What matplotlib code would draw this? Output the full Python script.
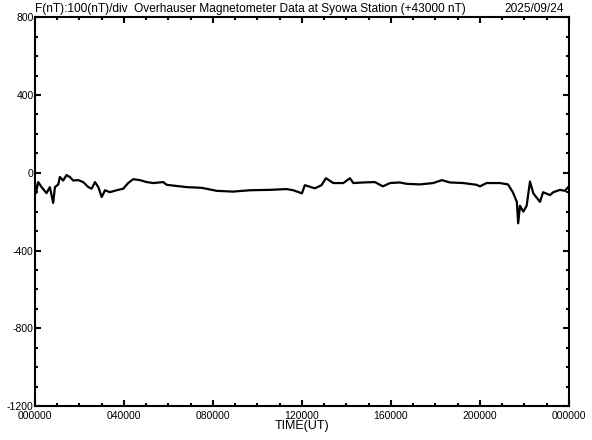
import matplotlib
matplotlib.use("Agg")
import matplotlib.pyplot as plt
from matplotlib.ticker import MultipleLocator

# (hours UT, F - 43000 nT)
hours = [0.0, 0.045, 0.15, 0.30, 0.52, 0.67, 0.82, 0.90, 1.05, 1.12, 1.27, 1.42,
         1.57, 1.72, 1.95, 2.17, 2.40, 2.55, 2.70, 2.85, 3.00, 3.15, 3.37, 3.67,
         3.97, 4.19, 4.42, 4.72, 5.02, 5.32, 5.77, 5.92, 6.37, 6.82, 7.42, 7.56,
         8.17, 8.90, 9.66, 10.56, 11.31, 11.61, 12.0, 12.13, 12.58, 12.88, 13.08,
         13.41, 13.86, 14.16, 14.31, 14.75, 15.28, 15.64, 15.96, 16.40, 16.71,
         17.30, 17.90, 18.29, 18.65, 19.25, 19.85, 20.0, 20.30, 20.90, 21.26,
         21.48, 21.66, 21.72, 21.80, 21.95, 22.10, 22.25, 22.40, 22.70, 22.84,
         23.15, 23.30, 23.60, 23.82, 24.0]
field = [-47, -105, -48, -74, -105, -74, -155, -74, -60, -22, -40, -12,
         -22, -40, -38, -48, -74, -82, -48, -74, -125, -90, -100, -90,
         -82, -53, -33, -38, -48, -53, -48, -62, -68, -74, -77, -79,
         -93, -97, -90, -88, -84, -90, -106, -64, -80, -64, -28,
         -53, -53, -28, -53, -50, -48, -70, -53, -50, -57,
         -60, -53, -38, -50, -53, -62, -70, -53, -53, -60,
         -100, -150, -260, -170, -200, -170, -45, -106, -150, -100,
         -115, -100, -88, -93, -70]

xtick_pos = [0, 4, 8, 12, 16, 20, 24]
xtick_labels = ['000000', '040000', '080000', '120000', '160000', '200000', '000000']
ytick_pos = [800, 400, 0, -400, -800, -1200]
ytick_labels = ['800', '400', '0', '-400', '-800', '-1200']

plt.rcParams['font.family'] = ['Liberation Sans', 'DejaVu Sans']

fig = plt.figure(figsize=(5.92, 4.4), dpi=100)
ax = fig.add_axes([0.059, 0.077, 0.902, 0.884])

ax.plot(hours, field, color='black', lw=1.6)

ax.set_xlim(0, 24)
ax.set_ylim(-1200, 800)
ax.set_xticks(xtick_pos)
ax.set_xticklabels(xtick_labels)
ax.set_yticks(ytick_pos)
ax.set_yticklabels(ytick_labels)
ax.xaxis.set_minor_locator(MultipleLocator(1))
ax.yaxis.set_minor_locator(MultipleLocator(100))
ax.tick_params(which='both', direction='in', top=True, right=True,
               width=1.5, colors='black', labelsize=7.5)
ax.tick_params(axis='y', pad=1)
ax.tick_params(axis='x', pad=3.5)
ax.tick_params(which='major', length=4)
ax.tick_params(which='minor', length=2.5)
for s in ax.spines.values():
    s.set_linewidth(1.5)

ax.set_xlabel('TIME(UT)', fontsize=9, labelpad=-1)
ax.text(0.0, 1.005, 'F(nT):100(nT)/div  Overhauser Magnetometer Data at Syowa Station (+43000 nT)',
        transform=ax.transAxes, fontsize=8.6, ha='left', va='bottom')
ax.text(0.99, 1.005, '2025/09/24', transform=ax.transAxes, fontsize=8.6,
        ha='right', va='bottom')

fig.savefig('out.png', dpi=100)
